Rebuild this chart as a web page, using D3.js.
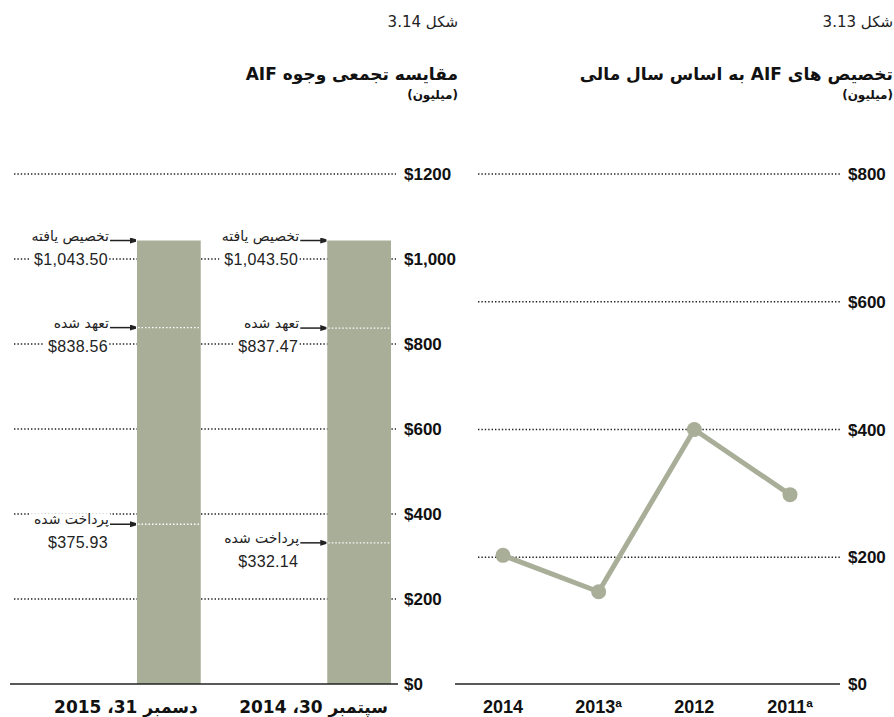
<!DOCTYPE html>
<html>
<head>
<meta charset="utf-8">
<script src="https://cdn.jsdelivr.net/npm/d3@7"></script>
<style>
  body { margin: 0; background: #fff; }
  svg { display: block; }
  .num { font-family: "Liberation Sans", Arial, sans-serif; }
  .fa { font-family: "DejaVu Sans", sans-serif; }
</style>
</head>
<body>
<div id="viz"></div>
<script>
// left chart: cumulative AIF funds
const barDates = ['دسمبر 31، 2015', 'سپتمبر 30، 2014'];
const allocated = [1043.50, 1043.50];
const committed = [838.56, 837.47];
const disbursed = [375.93, 332.14];
const leftTicks = [0, 200, 400, 600, 800, 1000, 1200];
const leftTickLabels = ['$0', '$200', '$400', '$600', '$800', '$1,000', '$1200'];
const noteNames = ['تخصیص یافته', 'تعهد شده', 'پرداخت شده'];

// right chart: AIF allocations by fiscal year
const years = ['2014', '2013ª', '2012', '2011ª'];
const yearValues = [203, 146, 400, 298];
const rightTicks = [0, 200, 400, 600, 800];
const rightTickLabels = ['$0', '$200', '$400', '$600', '$800'];

const titles = [
  { fig: 'شکل 3.14', line1: 'مقایسه تجمعی وجوه AIF', line2: '(میلیون)', right: 458 },
  { fig: 'شکل 3.13', line1: 'تخصیص های AIF به اساس سال مالی', line2: '(میلیون)', right: 893 }
];

let width = 894;
let height = 717;
let barColor = '#a9ae99';
let fmt = d3.format('$,.2f');

const svg = d3.select('#viz').append('svg')
  .attr('width', width)
  .attr('height', height);

svg.append('defs').append('marker')
  .attr('id', 'arrow')
  .attr('viewBox', '0 -5 10 10')
  .attr('refX', 10)
  .attr('refY', 0)
  .attr('markerWidth', 5)
  .attr('markerHeight', 4)
  .attr('markerUnits', 'strokeWidth')
  .attr('orient', 'auto')
  .append('path')
  .attr('fill', '#222')
  .attr('d', 'M0,-5L10,-2L10,2L0,5Z');

// titles
for (let t of titles) {
  svg.append('text')
    .attr('class', 'fa')
    .attr('direction', 'rtl')
    .attr('x', t.right)
    .attr('y', 27)
    .attr('font-size', 15)
    .attr('fill', '#222')
    .text(t.fig);

  svg.append('text')
    .attr('class', 'fa')
    .attr('direction', 'rtl')
    .attr('x', t.right)
    .attr('y', 80)
    .attr('font-size', 17)
    .attr('font-weight', 'bold')
    .attr('fill', '#111')
    .text(t.line1);

  svg.append('text')
    .attr('class', 'fa')
    .attr('direction', 'rtl')
    .attr('x', t.right)
    .attr('y', 99)
    .attr('font-size', 12)
    .attr('font-weight', 'bold')
    .attr('fill', '#111')
    .text(t.line2);
}

// ---------- left chart ----------
let yL = d3.scaleLinear()
  .domain([0, 1200])
  .range([684, 174]);

let xL = d3.scaleBand()
  .domain(barDates)
  .range([137, 391])
  .paddingInner(0.665);

const left = svg.append('g');

left.selectAll('.grid')
  .data(leftTicks.filter(d => d > 0))
  .join('line')
  .attr('class', 'grid')
  .attr('x1', 14)
  .attr('x2', 396)
  .attr('y1', d => yL(d))
  .attr('y2', d => yL(d))
  .attr('stroke', '#222')
  .attr('stroke-width', 1.3)
  .attr('stroke-dasharray', '1.4 2');

// annotations (drawn before bars, with white boxes that cut the grid)
const notes = [];
barDates.forEach((d, i) => {
  notes.push({ bar: d, name: noteNames[0], value: allocated[i] });
  notes.push({ bar: d, name: noteNames[1], value: committed[i] });
  notes.push({ bar: d, name: noteNames[2], value: disbursed[i] });
});

const noteG = left.append('g');

for (let n of notes) {
  let bx = xL(n.bar);
  let y = yL(n.value);
  let g = noteG.append('g');

  let nameText = g.append('text')
    .attr('class', 'fa')
    .attr('direction', 'rtl')
    .attr('x', bx - 28)
    .attr('y', y)
    .attr('font-size', 14)
    .attr('fill', '#222')
    .text(n.name);

  let valText = g.append('text')
    .attr('class', 'num')
    .attr('x', bx - 29)
    .attr('y', y + 24)
    .attr('text-anchor', 'end')
    .attr('font-size', 16)
    .attr('letter-spacing', 0.3)
    .attr('fill', '#222')
    .text(fmt(n.value));

  for (let t of [nameText, valText]) {
    let b = t.node().getBBox();
    g.insert('rect', 'text')
      .attr('x', b.x - 5)
      .attr('y', b.y + 2)
      .attr('width', b.width + 6)
      .attr('height', b.height - 4)
      .attr('fill', 'white');
  }

  g.append('line')
    .attr('x1', bx - 27)
    .attr('x2', bx - 1)
    .attr('y1', y)
    .attr('y2', y)
    .attr('stroke', '#222')
    .attr('stroke-width', 1.5)
    .attr('marker-end', 'url(#arrow)');
}

left.selectAll('.bar')
  .data(barDates)
  .join('rect')
  .attr('class', 'bar')
  .attr('x', d => xL(d))
  .attr('width', xL.bandwidth())
  .attr('y', (d, i) => yL(allocated[i]))
  .attr('height', (d, i) => yL(0) - yL(allocated[i]))
  .attr('fill', barColor);

// white dotted levels inside bars
for (let series of [committed, disbursed]) {
  left.append('g')
    .selectAll('line')
    .data(barDates)
    .join('line')
    .attr('x1', d => xL(d) + 1)
    .attr('x2', d => xL(d) + xL.bandwidth() - 1)
    .attr('y1', (d, i) => yL(series[i]))
    .attr('y2', (d, i) => yL(series[i]))
    .attr('stroke', 'white')
    .attr('stroke-width', 1.3)
    .attr('stroke-dasharray', '1.5 2');
}

left.append('line')
  .attr('x1', 10)
  .attr('x2', 398)
  .attr('y1', yL(0))
  .attr('y2', yL(0))
  .attr('stroke', '#222')
  .attr('stroke-width', 1.5);

left.selectAll('.tick-label')
  .data(leftTicks)
  .join('text')
  .attr('class', 'num tick-label')
  .attr('x', 404)
  .attr('y', d => yL(d))
  .attr('dy', '0.36em')
  .attr('font-size', 17)
  .attr('font-weight', 'bold')
  .attr('fill', '#111')
  .text((d, i) => leftTickLabels[i]);

left.selectAll('.date-label')
  .data(barDates)
  .join('text')
  .attr('class', 'fa date-label')
  .attr('direction', 'rtl')
  .attr('x', d => xL(d) + xL.bandwidth() - 3)
  .attr('y', 713)
  .attr('font-size', 17)
  .attr('font-weight', 'bold')
  .attr('fill', '#111')
  .text(d => d);

// ---------- right chart ----------
let yR = d3.scaleLinear()
  .domain([0, 800])
  .range([685, 174]);

let xR = d3.scalePoint()
  .domain(years)
  .range([503, 790]);

const right = svg.append('g');

right.selectAll('.grid')
  .data(rightTicks.filter(d => d > 0))
  .join('line')
  .attr('class', 'grid')
  .attr('x1', 478)
  .attr('x2', 840)
  .attr('y1', d => yR(d))
  .attr('y2', d => yR(d))
  .attr('stroke', '#222')
  .attr('stroke-width', 1.3)
  .attr('stroke-dasharray', '1.4 2');

right.append('line')
  .attr('x1', 455)
  .attr('x2', 840)
  .attr('y1', 684)
  .attr('y2', 684)
  .attr('stroke', '#222')
  .attr('stroke-width', 1.5);

right.selectAll('.tick-label')
  .data(rightTicks)
  .join('text')
  .attr('class', 'num tick-label')
  .attr('x', 848)
  .attr('y', d => d === 0 ? 684 : yR(d))
  .attr('dy', '0.36em')
  .attr('font-size', 17)
  .attr('font-weight', 'bold')
  .attr('fill', '#111')
  .text((d, i) => rightTickLabels[i]);

let line = d3.line()
  .x((d, i) => xR(years[i]))
  .y(d => yR(d));

right.append('path')
  .datum(yearValues)
  .attr('d', line)
  .attr('fill', 'none')
  .attr('stroke', barColor)
  .attr('stroke-width', 5);

right.selectAll('.dot')
  .data(yearValues)
  .join('circle')
  .attr('class', 'dot')
  .attr('cx', (d, i) => xR(years[i]))
  .attr('cy', d => yR(d))
  .attr('r', 7.5)
  .attr('fill', barColor);

right.selectAll('.year-label')
  .data(years)
  .join('text')
  .attr('class', 'num year-label')
  .attr('x', d => xR(d))
  .attr('y', 713)
  .attr('text-anchor', 'middle')
  .attr('font-size', 18)
  .attr('font-weight', 'bold')
  .attr('fill', '#111')
  .text(d => d);
</script>
</body>
</html>
